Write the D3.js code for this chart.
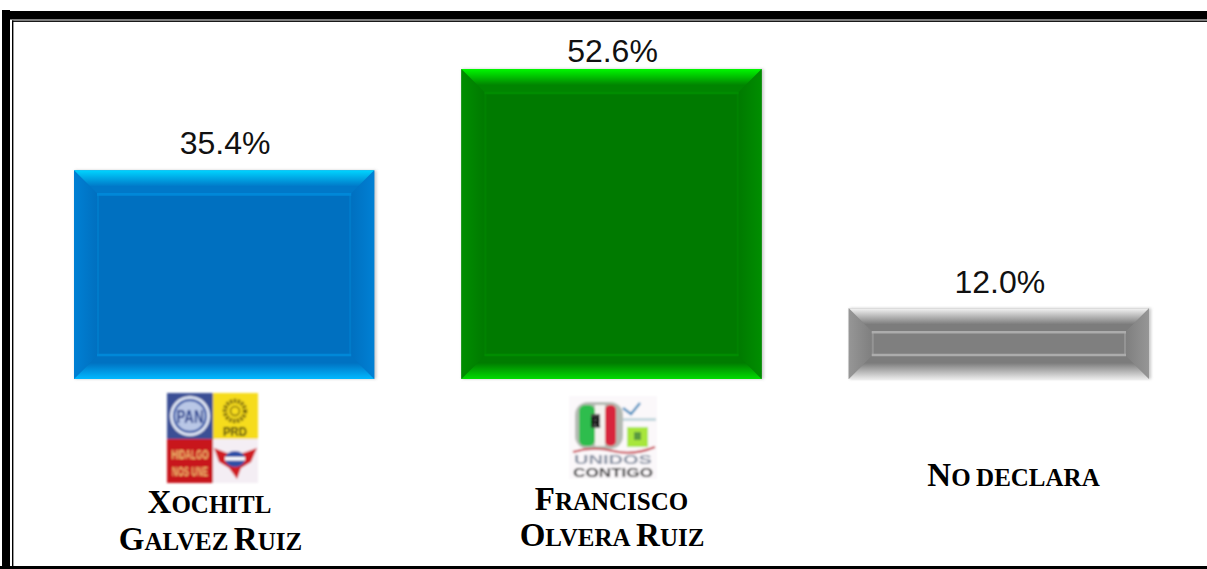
<!DOCTYPE html>
<html>
<head>
<meta charset="utf-8">
<script src="https://cdn.jsdelivr.net/npm/d3@7"></script>
<style>
  html, body { margin: 0; padding: 0; background: #fff; }
  svg { display: block; }
</style>
</head>
<body>
<svg id="chart" width="1207" height="569"></svg>
<script>
// Data
const categories = ["Xochitl", "Francisco", "No declara"];
const labelLines = [["Xochitl", "Galvez Ruiz"], ["Francisco", "Olvera Ruiz"], ["No declara"]];
const values = [35.4, 52.6, 12.0];
const valueLabels = ["35.4%", "52.6%", "12.0%"];

// bevel colours per bar: top edge, top inner, bottom inner, bottom edge, side, centre, rim
const barColors = [
  ["#00d4ff", "#0078c8", "#0072c2", "#00b8ff", "#0080d4", "#0070c0", "#0488d8"],
  ["#00f800", "#008400", "#007c00", "#00dc00", "#008e00", "#007a00", "#048c04"],
  ["#f4f4f4", "#7c7c7c", "#7c7c7c", "#e8e8e8", "#969696", "#7f7f7f", "#acacac"]
];

const svg = d3.select("#chart");
const defs = svg.append("defs");

const x = d3.scaleBand().domain(categories).range([74, 1149]).padding(0.225).paddingOuter(0);
const y = d3.scaleLinear().domain([0, 52.6]).range([379, 69]);

const bevel = 23;

defs.append("filter").attr("id", "soft")
    .append("feGaussianBlur").attr("stdDeviation", 0.6);
defs.append("filter").attr("id", "softer")
    .append("feGaussianBlur").attr("stdDeviation", 0.85);
const shadow = defs.append("filter").attr("id", "shadow")
    .attr("x", "-3%").attr("y", "-3%").attr("width", "106%").attr("height", "106%");
shadow.append("feGaussianBlur").attr("stdDeviation", 1.6);

// Frame
svg.append("rect").attr("x", 2).attr("y", 10).attr("width", 8).attr("height", 559).attr("fill", "#000");
svg.append("rect").attr("x", 10).attr("y", 11).attr("width", 1197).attr("height", 8.5).attr("fill", "#000");
svg.append("rect").attr("x", 12).attr("y", 20.5).attr("width", 1195).attr("height", 1.4).attr("fill", "#000");
svg.append("rect").attr("x", 12).attr("y", 20.5).attr("width", 1.4).attr("height", 548.5).attr("fill", "#000");
svg.append("rect").attr("x", 0).attr("y", 566).attr("width", 1207).attr("height", 3).attr("fill", "#000");

// Gradients for the bevels, the colour settles before the inner edge
barColors.forEach((c, i) => {
    [["top", c[0], c[1], 0, 70], ["bot", c[2], c[3], 30, 100]].forEach(([name, a, b, from, to]) => {
        const g = defs.append("linearGradient").attr("id", name + i)
            .attr("gradientUnits", "objectBoundingBox")
            .attr("x1", 0).attr("y1", 0).attr("x2", 0).attr("y2", 1);
        g.append("stop").attr("offset", from + "%").attr("stop-color", a);
        g.append("stop").attr("offset", to + "%").attr("stop-color", b);
    });
    [["left", c[4], c[5]], ["right", c[5], c[4]]].forEach(([name, a, b]) => {
        const g = defs.append("linearGradient").attr("id", name + i)
            .attr("x1", 0).attr("y1", 0).attr("x2", 1).attr("y2", 0);
        g.append("stop").attr("offset", "0%").attr("stop-color", a);
        g.append("stop").attr("offset", "100%").attr("stop-color", b);
    });
});

const rows = categories.map((c, i) => ({ c, i, v: values[i] }));

const bars = svg.append("g").selectAll("g").data(rows).enter().append("g");

bars.each(function(d) {
    const g = d3.select(this);
    const x0 = x(d.c), x1 = x0 + x.bandwidth(), y0 = y(d.v), y1 = y(0);
    const col = barColors[d.i];
    const poly = pts => pts.map(p => p.join(",")).join(" ");

    g.append("rect").attr("x", x0 + 1).attr("y", y0).attr("width", x1 - x0 + 1).attr("height", y1 - y0)
        .attr("fill", "#777").attr("opacity", 0.4).attr("filter", "url(#shadow)");
    g.append("rect").attr("x", x0).attr("y", y0).attr("width", x1 - x0).attr("height", y1 - y0).attr("fill", col[5]);

    g.append("polygon").attr("points", poly([[x0, y0], [x0 + bevel, y0 + bevel], [x0 + bevel, y1 - bevel], [x0, y1]]))
        .attr("fill", `url(#left${d.i})`);
    g.append("polygon").attr("points", poly([[x1, y0], [x1 - bevel, y0 + bevel], [x1 - bevel, y1 - bevel], [x1, y1]]))
        .attr("fill", `url(#right${d.i})`);
    g.append("polygon").attr("points", poly([[x0, y0], [x1, y0], [x1 - bevel, y0 + bevel], [x0 + bevel, y0 + bevel]]))
        .attr("fill", `url(#top${d.i})`);
    g.append("polygon").attr("points", poly([[x0, y1], [x1, y1], [x1 - bevel, y1 - bevel], [x0 + bevel, y1 - bevel]]))
        .attr("fill", `url(#bot${d.i})`);

    // inner rim: strong along top and bottom, faint down the sides
    const rim = g.append("g").attr("filter", "url(#soft)").attr("stroke", col[6]).attr("fill", "none");
    [[y0 + bevel + 1], [y1 - bevel - 1]].forEach(([yy]) => {
        rim.append("line").attr("x1", x0 + bevel).attr("x2", x1 - bevel).attr("y1", yy).attr("y2", yy)
            .attr("stroke-width", 2.6);
    });
    [x0 + bevel + 1, x1 - bevel - 1].forEach(xx => {
        rim.append("line").attr("x1", xx).attr("x2", xx).attr("y1", y0 + bevel).attr("y2", y1 - bevel)
            .attr("stroke-width", 2).attr("stroke-opacity", 0.45);
    });
});

// Value labels, the gap over each bar differs in the picture
const labelRaise = [16, 7, 15];
svg.append("g").selectAll("text").data(rows).enter().append("text")
    .attr("x", d => x(d.c) + x.bandwidth() / 2 + 1)
    .attr("y", d => y(d.v) - labelRaise[d.i])
    .attr("text-anchor", "middle")
    .attr("font-family", "'Liberation Sans', Arial, sans-serif")
    .attr("font-size", 32)
    .attr("fill", "#111")
    .text(d => valueLabels[d.i]);

// Category labels, hand made small caps
const labelTop = [513, 510, 486];
const labelGap = [37, 36, 0];
const labelCenter = [209.5, 612, 1013.5];
const labelLayer = svg.append("g");
labelLines.forEach((lines, i) => {
    lines.forEach((line, j) => {
        const t = labelLayer.append("text")
            .attr("x", labelCenter[i] + (i === 0 && j === 1 ? 1 : 0) + (i === 1 && j === 0 ? -0.5 : 0))
            .attr("y", labelTop[i] + j * labelGap[i])
            .attr("text-anchor", "middle")
            .attr("font-family", "'Liberation Serif', 'Times New Roman', serif")
            .attr("font-weight", "bold")
            .attr("fill", "#000");
        (line.match(/[A-Z][a-z]*|[a-z]+|\s+/g) || []).forEach(word => {
            if (/^\s+$/.test(word)) { t.append("tspan").attr("font-size", 22).text(" "); return; }
            const m = word.match(/^([A-Z]?)([a-z]*)$/);
            if (m[1]) t.append("tspan").attr("font-size", 33).text(m[1]);
            if (m[2]) t.append("tspan").attr("font-size", 25).text(m[2].toUpperCase());
        });
    });
});

// Party logos, rough copies at the size they have in the picture
function logoText(g, str, cx, cy, size, fill, len) {
    const t = g.append("text").attr("x", cx).attr("y", cy).attr("text-anchor", "middle")
        .attr("font-family", "'Liberation Sans', Arial, sans-serif").attr("font-weight", "bold")
        .attr("font-size", size).attr("fill", fill).text(str);
    if (len) t.attr("textLength", len).attr("lengthAdjust", "spacingAndGlyphs");
}

const logoA = svg.append("g").attr("transform", "translate(167,393)").attr("filter", "url(#softer)");
logoA.append("rect").attr("width", 46).attr("height", 46).attr("fill", "#3a4f95");
logoA.append("rect").attr("x", 46).attr("width", 45).attr("height", 46).attr("fill", "#f6dc1e");
logoA.append("rect").attr("y", 46).attr("width", 46).attr("height", 44).attr("fill", "#c8141c");
logoA.append("rect").attr("x", 46).attr("y", 46).attr("width", 45).attr("height", 44).attr("fill", "#f4eef4");
logoA.append("circle").attr("cx", 23).attr("cy", 23).attr("r", 20).attr("fill", "#e4eaf6");
logoA.append("circle").attr("cx", 23).attr("cy", 23).attr("r", 16).attr("fill", "#b9c7e6").attr("stroke", "#3a5aa8").attr("stroke-width", 2.4);
logoText(logoA, "PAN", 23, 30, 19, "#27408e", 27);
logoA.append("circle").attr("cx", 68).attr("cy", 18).attr("r", 10).attr("fill", "#f6dc1e").attr("stroke", "#7c6a10").attr("stroke-width", 4.5).attr("stroke-dasharray", "2.4 1.4");
logoA.append("circle").attr("cx", 68).attr("cy", 18).attr("r", 4.5).attr("fill", "#f6dc1e").attr("stroke", "#7c6a10").attr("stroke-width", 1.5);
logoText(logoA, "PRD", 68, 43, 12, "#3a3410", 24);
logoText(logoA, "HIDALGO", 23, 66, 12, "#f0c070", 37);
logoText(logoA, "NOS UNE", 23, 83, 12, "#f0c070", 36);
logoA.append("path").attr("d", "M47 55 L60 60 L76 60 L90 55 L84 69 L74 75 L70 86 L62 75 L52 69 Z").attr("fill", "#d01c24");
logoA.append("ellipse").attr("cx", 68).attr("cy", 66).attr("rx", 10).attr("ry", 8).attr("fill", "#2f4fa6");
logoA.append("rect").attr("x", 58).attr("y", 64).attr("width", 20).attr("height", 3.5).attr("fill", "#fff");

const logoB = svg.append("g").attr("transform", "translate(569,396)").attr("filter", "url(#softer)");
logoB.append("rect").attr("width", 88).attr("height", 83).attr("fill", "#fbf8fa");
logoB.append("rect").attr("x", 6).attr("y", 6).attr("width", 48).attr("height", 47).attr("rx", 13).attr("fill", "#b4bab2");
logoB.append("rect").attr("x", 10).attr("y", 9).attr("width", 16).attr("height", 41).attr("rx", 6).attr("fill", "#2ebd4e");
logoB.append("rect").attr("x", 26).attr("y", 9).attr("width", 10).attr("height", 41).attr("fill", "#f4f2ee");
logoB.append("rect").attr("x", 36).attr("y", 9).attr("width", 11).attr("height", 41).attr("rx", 5).attr("fill", "#d8283c");
logoB.append("rect").attr("x", 22).attr("y", 18).attr("width", 9).attr("height", 14).attr("fill", "#444");
logoText(logoB, "R", 26.5, 31, 15, "#000");
logoB.append("path").attr("d", "M54 12 L62 18 L71 7").attr("fill", "none").attr("stroke", "#4a90c0").attr("stroke-width", 2.4);
logoB.append("rect").attr("x", 54).attr("y", 22).attr("width", 33).attr("height", 3).attr("fill", "#c4d8de");
logoB.append("rect").attr("x", 58).attr("y", 31).attr("width", 21).attr("height", 20).attr("fill", "#a8e63c");
logoB.append("rect").attr("x", 65).attr("y", 36).attr("width", 7).attr("height", 8).attr("fill", "#5a9a40");
logoB.append("path").attr("d", "M4 56 Q24 50 44 55 T86 51").attr("fill", "none").attr("stroke", "#c8404c").attr("stroke-width", 2);
logoText(logoB, "UNIDOS", 44, 68, 13, "#8a93a4", 78);
logoText(logoB, "CONTIGO", 44, 81, 12.5, "#333", 80);
</script>
</body>
</html>
